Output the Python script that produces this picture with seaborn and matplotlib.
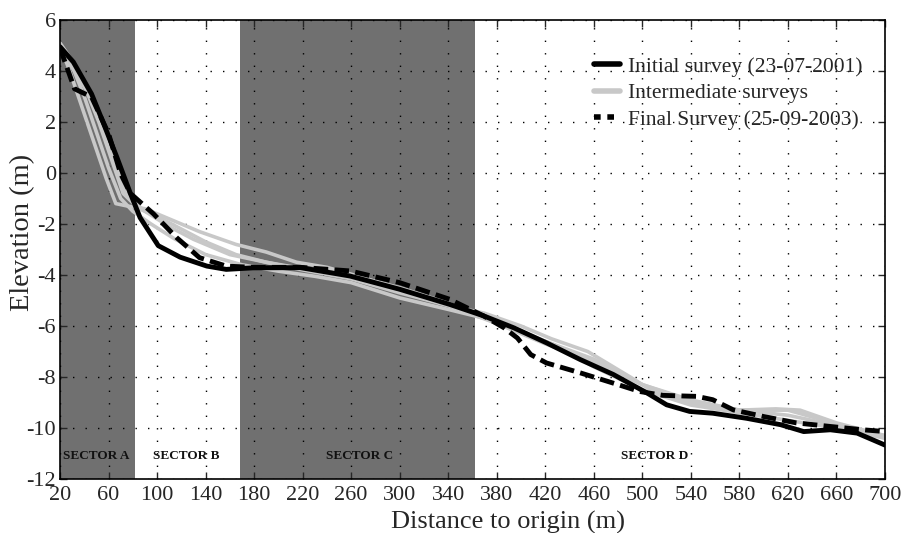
import matplotlib
matplotlib.use("Agg")
import matplotlib.pyplot as plt
from matplotlib.lines import Line2D
import seaborn as sns

# survey profiles
initial_x = [20, 31, 46, 55, 67, 78, 86, 101, 119, 141, 157, 179, 218, 259, 300, 341, 369, 394, 421, 449, 476,
             504, 520, 539, 558, 586, 614, 633, 655, 677, 700]
initial_y = [4.95, 4.35, 3.1, 2.05, 0.6, -0.8, -1.75, -2.85, -3.3, -3.65, -3.78, -3.72, -3.71, -4.04, -4.56, -5.15,
             -5.6, -6.07, -6.66, -7.32, -7.9, -8.63, -9.09, -9.35, -9.42, -9.62, -9.87, -10.14, -10.07, -10.2, -10.67]

final_x = [20, 32, 46, 60, 70, 78, 97, 116, 135, 157, 179, 218, 259, 300, 341, 369, 386, 397, 408, 421, 449, 476,
           498, 517, 545, 558, 575, 600, 627, 655, 682, 700]
final_y = [4.9, 3.3, 2.98, 1.54, -0.03, -0.8, -1.6, -2.53, -3.32, -3.65, -3.7, -3.7, -3.84, -4.3, -4.95, -5.6,
           -6.07, -6.47, -7.12, -7.45, -7.84, -8.24, -8.57, -8.72, -8.76, -8.89, -9.29, -9.55, -9.8, -9.94, -10.07,
           -10.14]

inter1_x = [20, 28, 38, 48, 58, 66, 76, 90, 110, 135, 165, 190, 215, 240, 270, 300, 340, 370, 400, 425, 455, 490,
            510, 540, 580, 620, 650, 680, 700]
inter1_y = [5.0, 4.0, 2.6, 1.2, -0.2, -1.2, -1.3, -1.4, -1.8, -2.3, -2.8, -3.1, -3.5, -3.7, -4.1, -4.6, -5.2, -5.5,
            -6.0, -6.5, -7.0, -8.0, -8.6, -9.0, -9.3, -9.3, -9.7, -10.1, -10.4]

inter2_x = [20, 30, 40, 50, 60, 70, 80, 95, 115, 140, 170, 200, 230, 260, 300, 340, 370, 400, 430, 460, 500, 540,
            580, 620, 660, 700]
inter2_y = [4.9, 4.2, 3.0, 1.6, 0.2, -1.0, -1.5, -2.0, -2.6, -3.2, -3.6, -3.85, -4.05, -4.3, -4.9, -5.35, -5.7,
            -6.2, -6.8, -7.6, -8.5, -9.1, -9.4, -9.7, -10.0, -10.4]

inter3_x = [20, 30, 42, 52, 62, 72, 85, 100, 120, 140, 165, 190, 220, 260, 300, 340, 380, 420, 460, 500, 540, 580,
            610, 630, 660, 700]
inter3_y = [5.1, 4.4, 3.2, 2.0, 0.6, -0.8, -1.4, -1.7, -2.2, -2.7, -3.2, -3.5, -3.8, -4.15, -4.7, -5.2, -5.9, -6.6,
            -7.3, -8.3, -8.95, -9.3, -9.25, -9.3, -9.8, -10.3]

inter4_x = [20, 32, 45, 55, 65, 75, 90, 110, 130, 160, 190, 220, 260, 300, 340, 380, 420, 460, 500, 540, 580, 620,
            660, 700]
inter4_y = [4.8, 4.0, 3.0, 1.8, 0.4, -0.9, -1.5, -2.1, -2.6, -3.2, -3.5, -3.75, -4.0, -4.5, -5.1, -5.9, -6.7, -7.4,
            -8.3, -8.9, -9.3, -9.5, -9.9, -10.3]

intermediates = [(inter1_x, inter1_y), (inter2_x, inter2_y), (inter3_x, inter3_y), (inter4_x, inter4_y)]

sectors = ["SECTOR A", "SECTOR B", "SECTOR C", "SECTOR D"]
sector_label_x = [50, 124, 267, 510]
shaded_spans = [(20, 82), (168, 362)]

x_ticks = list(range(20, 701, 40))
y_ticks = list(range(-12, 7, 2))

sns.set_style("ticks")
plt.rcParams["font.family"] = ["Liberation Serif", "DejaVu Serif"]
plt.rcParams["axes.unicode_minus"] = False

fig = plt.figure(figsize=(9.19, 5.33), dpi=100)
ax = fig.add_axes([0.0653, 0.1013, 0.8977, 0.8612])

for left, right in shaded_spans:
    ax.axvspan(left, right, color="#707070", lw=0, zorder=0)

light = "#c8c8c8"
for xs, ys in intermediates:
    sns.lineplot(x=xs, y=ys, ax=ax, color=light, lw=2.6, estimator=None, sort=False, zorder=2)
sns.lineplot(x=initial_x, y=initial_y, ax=ax, color="black", lw=3.5, estimator=None, sort=False, zorder=3)
sns.lineplot(x=final_x, y=final_y, ax=ax, color="black", lw=3.5, estimator=None, sort=False, zorder=4,
             dashes=False, linestyle=(0, (3, 1.3)))

for name, sx in zip(sectors, sector_label_x):
    ax.text(sx, -11.1, name, ha="center", va="center", fontsize=9.5, fontweight="bold", color="#111111")

ax.set_xlim(20, 700)
ax.set_ylim(-12, 6)
ax.set_xticks(x_ticks)
ax.set_yticks(y_ticks)
ax.set_axisbelow("line")
ax.grid(True, color="black", linestyle=(0, (1, 8)), linewidth=1.0)
ax.tick_params(axis="both", which="major", direction="in", top=True, right=True, length=5, width=1,
               labelsize=16)
ax.tick_params(axis="x", pad=5)
ax.tick_params(axis="y", pad=3)
for spine in ax.spines.values():
    spine.set_visible(True)
    spine.set_linewidth(1.2)
    spine.set_color("black")

ax.set_xlabel("Distance to origin (m)", fontsize=19)
ax.set_ylabel("Elevation (m)", fontsize=20.5)
ax.xaxis.set_label_coords(0.543, -0.07)
ax.yaxis.set_label_coords(-0.03, 0.537)

handles = [Line2D([], [], color="black", lw=4),
           Line2D([], [], color=light, lw=4),
           Line2D([], [], color="black", lw=4, linestyle=(0, (1.2, 1.2)))]
labels = ["Initial survey (23-07-2001)", "Intermediate surveys", "Final Survey (25-09-2003)"]
ax.legend(handles, labels, loc="upper right", bbox_to_anchor=(0.996, 0.962), frameon=False, fontsize=15.5,
          handlelength=1.2, handletextpad=0.35, labelspacing=0.3)

fig.savefig("out.png", dpi=100)
